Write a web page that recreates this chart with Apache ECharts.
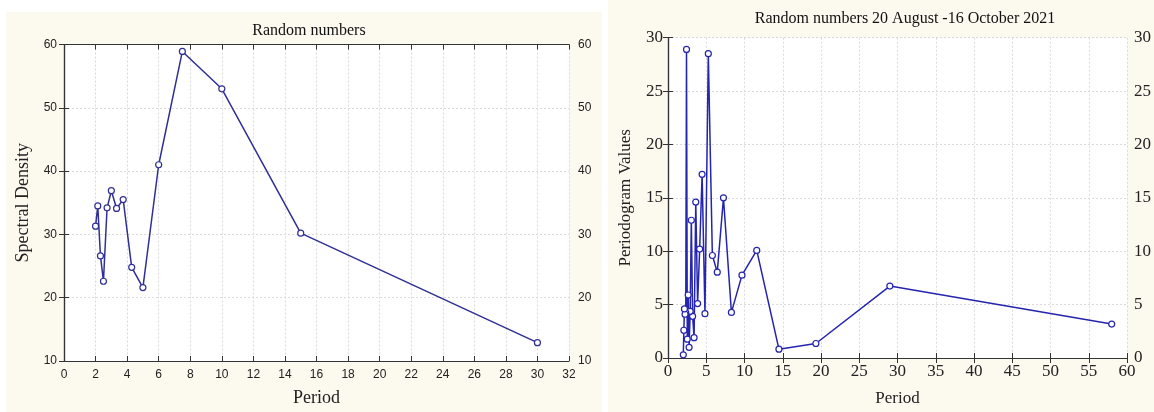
<!DOCTYPE html>
<html>
<head>
<meta charset="utf-8">
<script src="https://cdn.jsdelivr.net/npm/echarts@6/dist/echarts.min.js"></script>
<style>
  html, body { margin: 0; padding: 0; background: #ffffff; width: 1154px; height: 412px; overflow: hidden; }
  #left { position: absolute; left: 6px; top: 12px; width: 596px; height: 400px; background: #fcf9ef; }
  #right { position: absolute; left: 608px; top: 0px; width: 546px; height: 412px; background: #fcf9ef; }
</style>
</head>
<body>
<div id="left"></div>
<div id="right"></div>
<script>
// ---- Left chart data ----
const leftTitle = 'Random numbers';
const leftPeriods = [2, 2.14, 2.31, 2.5, 2.73, 3, 3.33, 3.75, 4.29, 5, 6, 7.5, 10, 15, 30];
const leftDensity = [31.3, 34.5, 26.6, 22.6, 34.2, 36.9, 34.1, 35.5, 24.8, 21.6, 41.0, 58.9, 53.0, 30.2, 12.9];

// ---- Right chart data ----
const rightTitle = 'Random numbers 20 August -16 October 2021';
const rightPeriods = [58, 29, 19.33, 14.5, 11.6, 9.67, 8.29, 7.25, 6.44, 5.8, 5.27, 4.83, 4.46, 4.14, 3.87, 3.63, 3.41, 3.22, 3.05, 2.9, 2.76, 2.64, 2.52, 2.42, 2.32, 2.23, 2.15, 2.07, 2.0];
const rightValues = [3.18, 6.74, 1.36, 0.83, 10.08, 7.76, 4.27, 15.0, 8.04, 9.6, 28.5, 4.15, 17.2, 10.2, 5.1, 14.6, 1.9, 3.9, 12.9, 4.37, 1.0, 5.9, 1.76, 28.9, 4.25, 4.1, 4.6, 2.6, 0.3];

const gridLine = { show: true, lineStyle: { color: '#dadada', type: [2, 2], width: 1 } };
const axisLine = { show: true, lineStyle: { color: '#333', width: 1.2 } };
const tickIn = { show: true, inside: true, length: 5, lineStyle: { color: '#333' } };

function makeOption(cfg) {
  const labelStyle = { color: '#222', fontFamily: cfg.labelFont, fontSize: cfg.labelSize };
  const nameStyle = { color: '#222', fontFamily: 'Liberation Serif', fontSize: cfg.nameSize };
  return {
    animation: false,
    title: {
      text: cfg.title, left: cfg.titleX, top: cfg.titleY, textAlign: 'center',
      textStyle: { fontFamily: 'Liberation Serif', fontSize: cfg.titleSize, fontWeight: 'normal', color: '#111' }
    },
    grid: { left: cfg.grid.left, top: cfg.grid.top, width: cfg.grid.width, height: cfg.grid.height,
            show: true, backgroundColor: '#ffffff', borderWidth: 0 },
    xAxis: [
      { type: 'value', position: 'bottom', min: cfg.xMin, max: cfg.xMax, interval: cfg.xInt,
        name: 'Period', nameLocation: 'middle', nameGap: cfg.xNameGap, nameTextStyle: nameStyle,
        axisLine: axisLine, axisTick: tickIn, splitLine: gridLine,
        axisLabel: Object.assign({ margin: cfg.xLabelMargin }, labelStyle) },
      { type: 'value', position: 'top', min: cfg.xMin, max: cfg.xMax, interval: cfg.xInt,
        axisLine: axisLine, axisTick: tickIn, splitLine: { show: false }, axisLabel: { show: false } }
    ],
    yAxis: [
      { type: 'value', position: 'left', min: cfg.yMin, max: cfg.yMax, interval: cfg.yInt,
        name: cfg.yName, nameLocation: 'middle', nameGap: cfg.yNameGap, nameTextStyle: nameStyle,
        axisLine: axisLine, axisTick: tickIn, splitLine: gridLine,
        axisLabel: Object.assign({ margin: cfg.yLabelMargin }, labelStyle) },
      { type: 'value', position: 'right', min: cfg.yMin, max: cfg.yMax, interval: cfg.yInt,
        axisLine: axisLine, axisTick: tickIn, splitLine: { show: false },
        axisLabel: Object.assign({ margin: cfg.yLabelMargin + 2 }, labelStyle) }
    ],
    series: [{
      type: 'line',
      data: cfg.xs.map((x, i) => [x, cfg.ys[i]]),
      symbol: 'circle', symbolSize: 6, showSymbol: true,
      lineStyle: { color: cfg.color, width: 1.5 },
      itemStyle: { color: '#ffffff', borderColor: cfg.color, borderWidth: 1.2 },
      z: 3
    }]
  };
}

const leftChart = echarts.init(document.getElementById('left'));
leftChart.setOption(makeOption({
  title: leftTitle, titleX: 298, titleY: 6, titleSize: 16,
  grid: { left: 58, top: 32.5, width: 505, height: 321.5 },
  xMin: 0, xMax: 32, xInt: 2, yMin: 10, yMax: 60, yInt: 10,
  xs: leftPeriods, ys: leftDensity,
  yName: 'Spectral Density', yNameGap: 25, xNameGap: 28,
  labelFont: 'Liberation Sans', labelSize: 12, nameSize: 18,
  xLabelMargin: 8, yLabelMargin: 7,
  color: '#2f2f96'
}));

const rightChart = echarts.init(document.getElementById('right'));
rightChart.setOption(makeOption({
  title: rightTitle, titleX: 292, titleY: 6, titleSize: 16,
  grid: { left: 60, top: 37.7, width: 461, height: 324.6 },
  xMin: 0, xMax: 60, xInt: 5, yMin: 0, yMax: 30, yInt: 5,
  xs: rightPeriods, ys: rightValues,
  yName: 'Periodogram Values', yNameGap: 34, xNameGap: 32,
  labelFont: 'Liberation Serif', labelSize: 17, nameSize: 17,
  xLabelMargin: 5, yLabelMargin: 5,
  color: '#2424b0'
}));
</script>
</body>
</html>
